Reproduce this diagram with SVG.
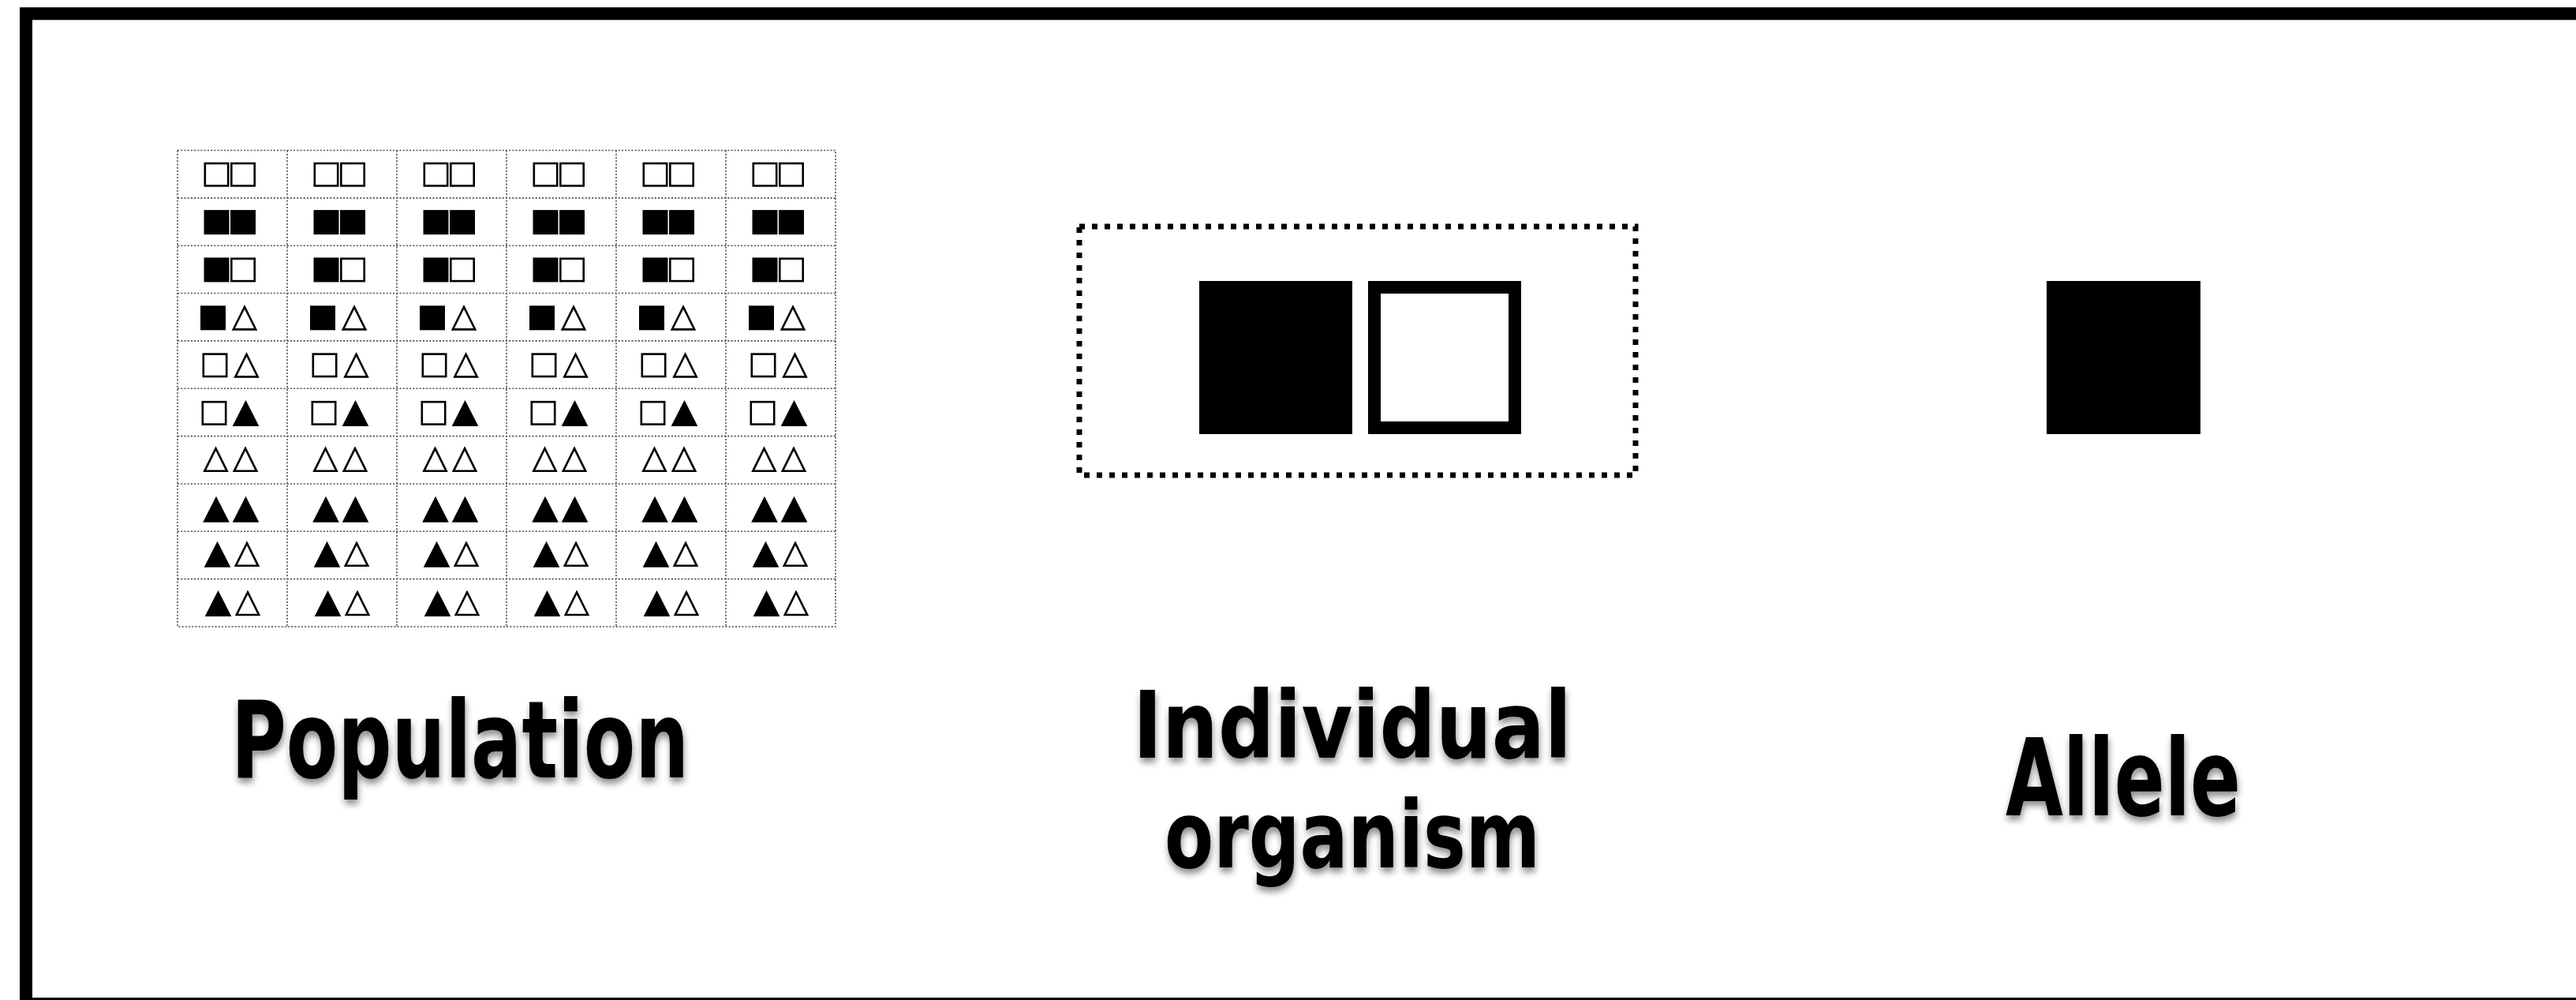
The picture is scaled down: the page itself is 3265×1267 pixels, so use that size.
<svg xmlns="http://www.w3.org/2000/svg" xmlns:xlink="http://www.w3.org/1999/xlink" width="3265" height="1267" viewBox="0 0 3265 1267">
<style>
.grid{fill:none;stroke:#555;stroke-width:1.6;stroke-dasharray:2.2 2}
.lbl{font-family:"DejaVu Sans","Liberation Sans",sans-serif;font-weight:bold;font-size:136px;fill:#000;text-anchor:middle;filter:url(#shadow)}
.lbl2{font-size:118px}
.so{fill:#fff;stroke:#000;stroke-width:2.6}
.sf{fill:#000;stroke:none}
</style>
<defs>
<filter id="shadow" x="-10%" y="-20%" width="120%" height="150%">
<feDropShadow dx="1" dy="6" stdDeviation="4" flood-color="#000" flood-opacity="0.45"/>
</filter>
<rect id="sqO" class="so" x="-14.7" y="-14.2" width="29.4" height="28.4"/>
<rect id="sqF" class="sf" x="-16" y="-15.5" width="32" height="31"/>
<polygon id="triO" class="so" points="0,-14 14.2,14.6 -14.2,14.6" stroke-linejoin="miter"/>
<polygon id="triF" class="sf" points="0,-16.5 16.8,16.5 -16.8,16.5"/>
<g id="c1"><use href="#sqO" x="-20"/><use href="#sqO" x="13.5"/></g>
<g id="c2"><use href="#sqF" x="-20"/><use href="#sqF" x="13.5"/></g>
<g id="c3"><use href="#sqF" x="-20"/><use href="#sqO" x="13.5"/></g>
<g id="c4"><use href="#sqF" x="-24.5"/><use href="#triO" x="15.5"/></g>
<g id="c5"><use href="#sqO" x="-22"/><use href="#triO" x="18"/></g>
<g id="c6"><use href="#sqO" x="-23"/><use href="#triF" x="17"/></g>
<g id="c7"><use href="#triO" x="-21"/><use href="#triO" x="16.5"/></g>
<g id="c8"><use href="#triF" x="-20.5"/><use href="#triF" x="17"/></g>
<g id="c9"><use href="#triF" x="-19"/><use href="#triO" x="18.5"/></g>
<g id="c10"><use href="#triF" x="-18"/><use href="#triO" x="19.5"/></g>
</defs>
<rect x="0" y="0" width="3265" height="1267" fill="#fff"/>
<rect id="frame" x="33" y="17.3" width="3300" height="1254.7" fill="none" stroke="#000" stroke-width="16"/>

<g id="population">
<g id="population-grid">
<rect class="grid" x="225" y="190.5" width="834" height="603.5"/>
<path class="grid" d="M364 190.5V794M503 190.5V794M642 190.5V794M781 190.5V794M920 190.5V794M225 250.85H1059M225 311.2H1059M225 371.55H1059M225 431.9H1059M225 492.25H1059M225 552.6H1059M225 612.95H1059M225 673.3H1059M225 733.65H1059"/>
</g>
<g id="population-cells">
<g transform="translate(0,221.2)"><use href="#c1" x="294.5"/><use href="#c1" x="433.5"/><use href="#c1" x="572.5"/><use href="#c1" x="711.5"/><use href="#c1" x="850.5"/><use href="#c1" x="989.5"/></g>
<g transform="translate(0,281.6)"><use href="#c2" x="294.5"/><use href="#c2" x="433.5"/><use href="#c2" x="572.5"/><use href="#c2" x="711.5"/><use href="#c2" x="850.5"/><use href="#c2" x="989.5"/></g>
<g transform="translate(0,341.9)"><use href="#c3" x="294.5"/><use href="#c3" x="433.5"/><use href="#c3" x="572.5"/><use href="#c3" x="711.5"/><use href="#c3" x="850.5"/><use href="#c3" x="989.5"/></g>
<g transform="translate(0,402.8)"><use href="#c4" x="294.5"/><use href="#c4" x="433.5"/><use href="#c4" x="572.5"/><use href="#c4" x="711.5"/><use href="#c4" x="850.5"/><use href="#c4" x="989.5"/></g>
<g transform="translate(0,462.8)"><use href="#c5" x="294.5"/><use href="#c5" x="433.5"/><use href="#c5" x="572.5"/><use href="#c5" x="711.5"/><use href="#c5" x="850.5"/><use href="#c5" x="989.5"/></g>
<g transform="translate(0,523.4)"><use href="#c6" x="294.5"/><use href="#c6" x="433.5"/><use href="#c6" x="572.5"/><use href="#c6" x="711.5"/><use href="#c6" x="850.5"/><use href="#c6" x="989.5"/></g>
<g transform="translate(0,582.2)"><use href="#c7" x="294.5"/><use href="#c7" x="433.5"/><use href="#c7" x="572.5"/><use href="#c7" x="711.5"/><use href="#c7" x="850.5"/><use href="#c7" x="989.5"/></g>
<g transform="translate(0,645.2)"><use href="#c8" x="294.5"/><use href="#c8" x="433.5"/><use href="#c8" x="572.5"/><use href="#c8" x="711.5"/><use href="#c8" x="850.5"/><use href="#c8" x="989.5"/></g>
<g transform="translate(0,702.2)"><use href="#c9" x="294.5"/><use href="#c9" x="433.5"/><use href="#c9" x="572.5"/><use href="#c9" x="711.5"/><use href="#c9" x="850.5"/><use href="#c9" x="989.5"/></g>
<g transform="translate(0,764.4)"><use href="#c10" x="294.5"/><use href="#c10" x="433.5"/><use href="#c10" x="572.5"/><use href="#c10" x="711.5"/><use href="#c10" x="850.5"/><use href="#c10" x="989.5"/></g>
</g>
<text class="lbl" x="583" y="985" textLength="580" lengthAdjust="spacingAndGlyphs">Population</text>
</g>

<g id="individual">
<rect x="1368" y="287" width="705" height="315" fill="none" stroke="#000" stroke-width="7" stroke-dasharray="7 9"/>
<rect x="1520" y="356" width="194" height="194" fill="#000"/>
<rect x="1742" y="364" width="178" height="178" fill="#fff" stroke="#000" stroke-width="16"/>
<text class="lbl lbl2" x="1714" y="960" textLength="556" lengthAdjust="spacingAndGlyphs">Individual</text>
<text class="lbl lbl2" x="1714" y="1099" textLength="476" lengthAdjust="spacingAndGlyphs">organism</text>
</g>

<g id="allele">
<rect x="2594" y="356" width="195" height="194" fill="#000"/>
<text class="lbl" x="2691" y="1033" textLength="298" lengthAdjust="spacingAndGlyphs">Allele</text>
</g>

<g id="connectors"/>
</svg>
